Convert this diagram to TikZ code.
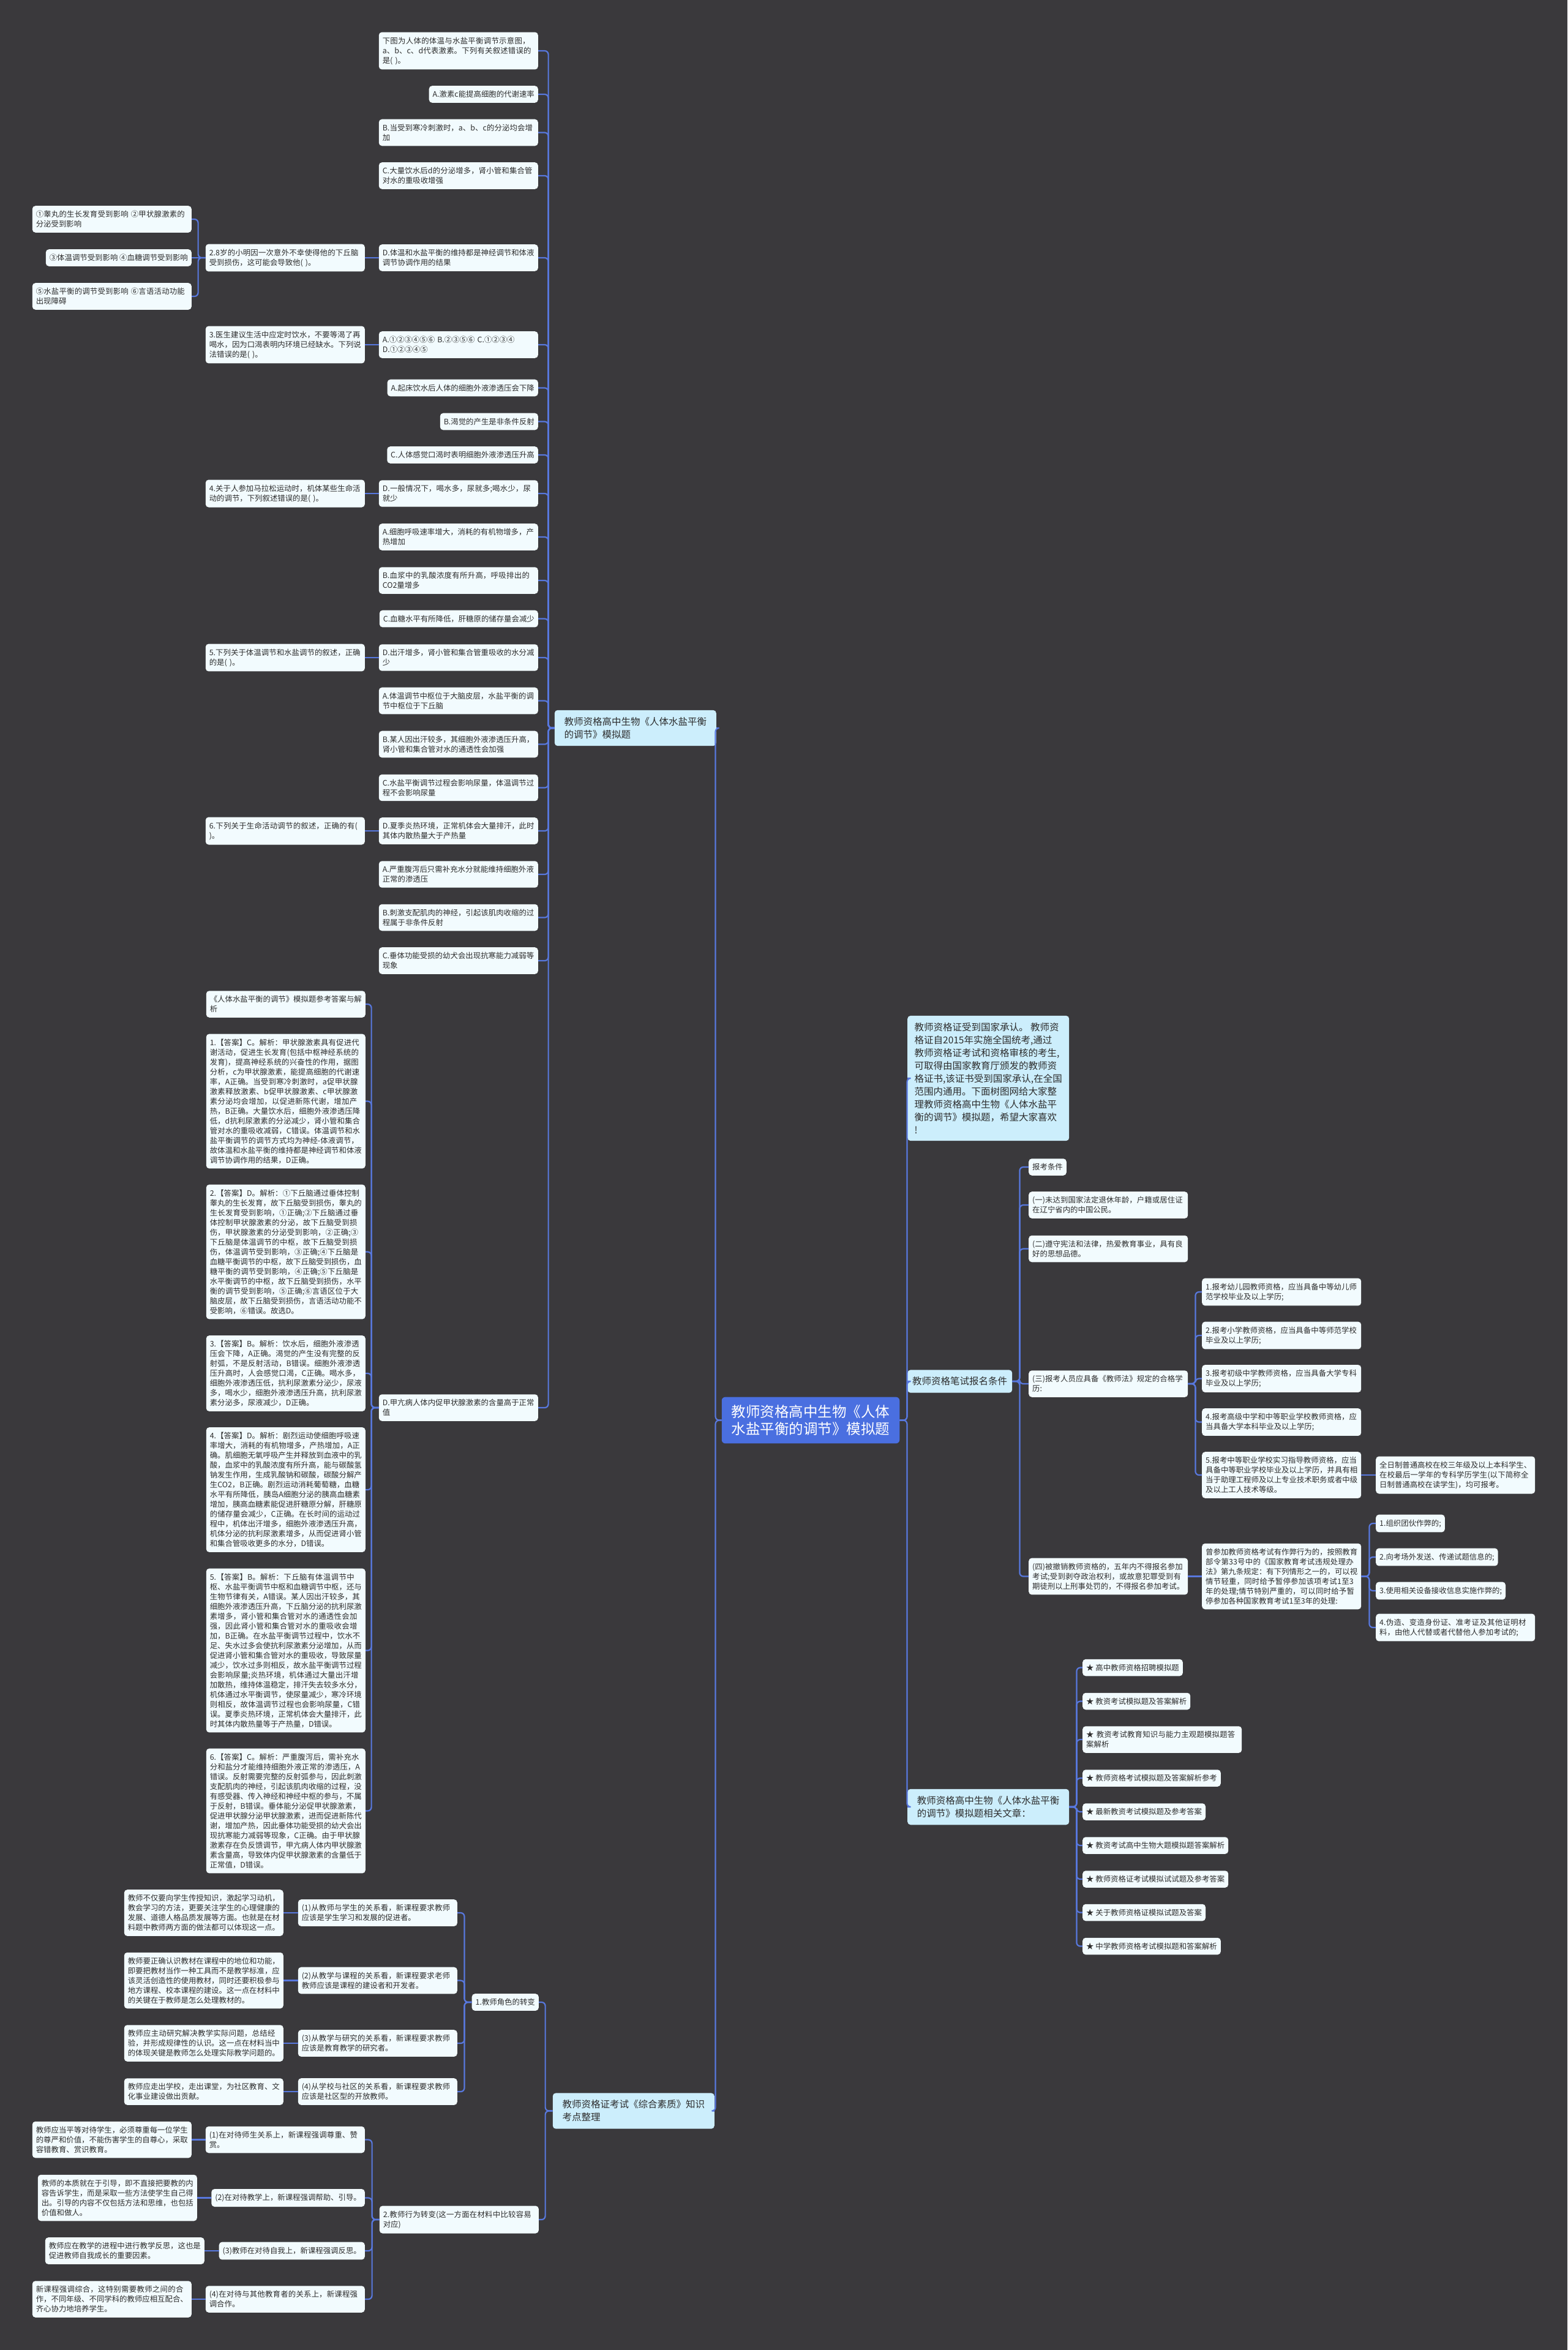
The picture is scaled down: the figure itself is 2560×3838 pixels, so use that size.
\documentclass[tikz,border=0pt]{standalone}
\usepackage{fontspec}
\setmainfont{Noto Sans CJK SC}
\XeTeXlinebreaklocale "zh"
\XeTeXlinebreakskip = 0pt plus 1pt
\usepackage{xcolor}
\definecolor{bgc}{RGB}{58,57,60}
\definecolor{linec}{RGB}{88,120,222}
\definecolor{rootc}{RGB}{74,111,224}
\definecolor{topc}{RGB}{204,238,252}
\definecolor{leafc}{RGB}{242,251,254}
\definecolor{txtc}{RGB}{45,45,45}

\begin{document}
\begin{tikzpicture}[x=1pt,y=1pt,yscale=-1,
	link/.style={draw=linec, line width=2.2pt, rounded corners=6pt},
	leaf/.style={fill=leafc, text=txtc, rounded corners=5pt, inner xsep=6pt, inner ysep=8pt, align=left, font=\fontsize{12.4}{16}\selectfont},
	wide/.style={text width=248pt},
	topic/.style={fill=topc, text=txtc, rounded corners=5pt, inner xsep=8pt, inner ysep=11.5pt, align=left, font=\fontsize{15.5}{21}\selectfont},
	topicw/.style={minimum width=264pt},
	rootbox/.style={fill=rootc, text=white, rounded corners=6pt, inner xsep=16pt, inner ysep=13pt, align=left, font=\fontsize{23.5}{28}\selectfont}]
				%set diagram size 2560 x 3838
				\useasboundingbox (0,0) rectangle (2560,3838);
				\fill [bgc] (0,0) rectangle (2560,3838);
				
				% Root Node
				\node [rootbox] (root) at (1324,2319.5) {教师资格高中生物《人体\\水盐平衡的调节》模拟题};
				
				% Topic Nodes
				\node [topic, topicw, anchor=east] (lvL0) at (1170,1189) {教师资格高中生物《人体水盐平衡\\的调节》模拟题};
				\node [topic, topicw, anchor=east] (lvL1) at (1167,3447.5) {教师资格证考试《综合素质》知识\\考点整理};
				\node [topic, topicw, anchor=west] (lvR0) at (1482,1761) {教师资格证受到国家承认。 教师资\\格证自2015年实施全国统考,通过\\教师资格证考试和资格审核的考生,\\可取得由国家教育厅颁发的教师资\\格证书,该证书受到国家承认,在全国\\范围内通用。下面树图网给大家整\\理教师资格高中生物《人体水盐平\\衡的调节》模拟题，希望大家喜欢\\!};
				\node [topic, anchor=west] (lvR1) at (1482,2256) {教师资格笔试报名条件};
				\node [topic, topicw, anchor=west] (lvR2) at (1482,2951) {教师资格高中生物《人体水盐平衡\\的调节》模拟题相关文章：};
				
				% Text Node
				\node [leaf, wide, anchor=east] (qa0) at (879,83) {下图为人体的体温与水盐平衡调节示意图，a、b、c、d代表激素。下列有关叙述错误的是( )。};
				% Text Node
				\node [leaf, anchor=east] (qa1) at (879,154) {A.激素c能提高细胞的代谢速率};
				% Text Node
				\node [leaf, wide, anchor=east] (qa2) at (879,216.5) {B.当受到寒冷刺激时，a、b、c的分泌均会增加};
				% Text Node
				\node [leaf, wide, anchor=east] (qa3) at (879,287) {C.大量饮水后d的分泌增多，肾小管和集合管对水的重吸收增强};
				% Text Node
				\node [leaf, wide, anchor=east] (qa4) at (879,421) {D.体温和水盐平衡的维持都是神经调节和体液调节协调作用的结果};
				% Text Node
				\node [leaf, wide, anchor=east] (qb0) at (596,421) {2.8岁的小明因一次意外不幸使得他的下丘脑受到损伤，这可能会导致他( )。};
				% Text Node
				\node [leaf, wide, anchor=east] (qb1) at (313,358) {①睾丸的生长发育受到影响 ②甲状腺激素的分泌受到影响};
				% Text Node
				\node [leaf, anchor=east] (qb2) at (313,421) {③体温调节受到影响 ④血糖调节受到影响};
				% Text Node
				\node [leaf, wide, anchor=east] (qb3) at (313,484) {⑤水盐平衡的调节受到影响 ⑥言语活动功能出现障碍};
				% Text Node
				\node [leaf, wide, anchor=east] (qa5) at (879,563) {A.①②③④⑤⑥ B.②③⑤⑥ C.①②③④ D.①②③④⑤};
				% Text Node
				\node [leaf, wide, anchor=east] (qc0) at (596,563) {3.医生建议生活中应定时饮水，不要等渴了再喝水，因为口渴表明内环境已经缺水。下列说法错误的是( )。};
				% Text Node
				\node [leaf, anchor=east] (qa6) at (879,633.5) {A.起床饮水后人体的细胞外液渗透压会下降};
				% Text Node
				\node [leaf, anchor=east] (qa7) at (879,688.5) {B.渴觉的产生是非条件反射};
				% Text Node
				\node [leaf, anchor=east] (qa8) at (879,743) {C.人体感觉口渴时表明细胞外液渗透压升高};
				% Text Node
				\node [leaf, wide, anchor=east] (qa9) at (879,806) {D.一般情况下，喝水多，尿就多;喝水少，尿就少};
				% Text Node
				\node [leaf, wide, anchor=east] (qd0) at (596,806) {4.关于人参加马拉松运动时，机体某些生命活动的调节，下列叙述错误的是( )。};
				% Text Node
				\node [leaf, wide, anchor=east] (qa10) at (879,877) {A.细胞呼吸速率增大，消耗的有机物增多，产热增加};
				% Text Node
				\node [leaf, wide, anchor=east] (qa11) at (879,948) {B.血浆中的乳酸浓度有所升高，呼吸排出的CO2量增多};
				% Text Node
				\node [leaf, anchor=east] (qa12) at (879,1010.5) {C.血糖水平有所降低，肝糖原的储存量会减少};
				% Text Node
				\node [leaf, wide, anchor=east] (qa13) at (879,1074) {D.出汗增多，肾小管和集合管重吸收的水分减少};
				% Text Node
				\node [leaf, wide, anchor=east] (qe0) at (596,1074) {5.下列关于体温调节和水盐调节的叙述，正确的是( )。};
				% Text Node
				\node [leaf, wide, anchor=east] (qa14) at (879,1144.5) {A.体温调节中枢位于大脑皮层，水盐平衡的调节中枢位于下丘脑};
				% Text Node
				\node [leaf, wide, anchor=east] (qa15) at (879,1215.5) {B.某人因出汗较多，其细胞外液渗透压升高，肾小管和集合管对水的通透性会加强};
				% Text Node
				\node [leaf, wide, anchor=east] (qa16) at (879,1286.5) {C.水盐平衡调节过程会影响尿量，体温调节过程不会影响尿量};
				% Text Node
				\node [leaf, wide, anchor=east] (qa17) at (879,1357) {D.夏季炎热环境，正常机体会大量排汗，此时其体内散热量大于产热量};
				% Text Node
				\node [leaf, wide, anchor=east] (qf0) at (596,1357) {6.下列关于生命活动调节的叙述，正确的有( )。};
				% Text Node
				\node [leaf, wide, anchor=east] (qa18) at (879,1428) {A.严重腹泻后只需补充水分就能维持细胞外液正常的渗透压};
				% Text Node
				\node [leaf, wide, anchor=east] (qa19) at (879,1498.5) {B.刺激支配肌肉的神经，引起该肌肉收缩的过程属于非条件反射};
				% Text Node
				\node [leaf, wide, anchor=east] (qa20) at (879,1569) {C.垂体功能受损的幼犬会出现抗寒能力减弱等现象};
				% Text Node
				\node [leaf, wide, anchor=east] (qa21) at (879,2299) {D.甲亢病人体内促甲状腺激素的含量高于正常值};
				
				% Text Node
				\node [leaf, wide, anchor=east] (an0) at (597,1640) {《人体水盐平衡的调节》模拟题参考答案与解析};
				% Text Node
				\node [leaf, wide, anchor=east] (an1) at (597,1798.5) {1.【答案】C。解析：甲状腺激素具有促进代谢活动，促进生长发育(包括中枢神经系统的发育)，提高神经系统的兴奋性的作用，据图分析，c为甲状腺激素，能提高细胞的代谢速率，A正确。当受到寒冷刺激时，a促甲状腺激素释放激素、b促甲状腺激素、c甲状腺激素分泌均会增加，以促进新陈代谢，增加产热，B正确。大量饮水后，细胞外液渗透压降低，d抗利尿激素的分泌减少，肾小管和集合管对水的重吸收减弱，C错误。体温调节和水盐平衡调节的调节方式均为神经-体液调节，故体温和水盐平衡的维持都是神经调节和体液调节协调作用的结果，D正确。};
				% Text Node
				\node [leaf, wide, anchor=east] (an2) at (597,2044.5) {2.【答案】D。解析：①下丘脑通过垂体控制睾丸的生长发育，故下丘脑受到损伤，睾丸的生长发育受到影响，①正确;②下丘脑通过垂体控制甲状腺激素的分泌，故下丘脑受到损伤，甲状腺激素的分泌受到影响，②正确;③下丘脑是体温调节的中枢，故下丘脑受到损伤，体温调节受到影响，③正确;④下丘脑是血糖平衡调节的中枢，故下丘脑受到损伤，血糖平衡的调节受到影响，④正确;⑤下丘脑是水平衡调节的中枢，故下丘脑受到损伤，水平衡的调节受到影响，⑤正确;⑥言语区位于大脑皮层，故下丘脑受到损伤，言语活动功能不受影响，⑥错误。故选D。};
				% Text Node
				\node [leaf, wide, anchor=east] (an3) at (597,2243) {3.【答案】B。解析：饮水后，细胞外液渗透压会下降，A正确。渴觉的产生没有完整的反射弧，不是反射活动，B错误。细胞外液渗透压升高时，人会感觉口渴，C正确。喝水多，细胞外液渗透压低，抗利尿激素分泌少，尿液多，喝水少，细胞外液渗透压升高，抗利尿激素分泌多，尿液减少，D正确。};
				% Text Node
				\node [leaf, wide, anchor=east] (an4) at (597,2433) {4.【答案】D。解析：剧烈运动使细胞呼吸速率增大，消耗的有机物增多，产热增加，A正确。肌细胞无氧呼吸产生并释放到血液中的乳酸，血浆中的乳酸浓度有所升高，能与碳酸氢钠发生作用，生成乳酸钠和碳酸，碳酸分解产生CO2，B正确。剧烈运动消耗葡萄糖，血糖水平有所降低，胰岛A细胞分泌的胰高血糖素增加，胰高血糖素能促进肝糖原分解，肝糖原的储存量会减少，C正确。在长时间的运动过程中，机体出汗增多，细胞外液渗透压升高，机体分泌的抗利尿激素增多，从而促进肾小管和集合管吸收更多的水分，D错误。};
				% Text Node
				\node [leaf, wide, anchor=east] (an5) at (597,2695.5) {5.【答案】B。解析：下丘脑有体温调节中枢、水盐平衡调节中枢和血糖调节中枢，还与生物节律有关，A错误。某人因出汗较多，其细胞外液渗透压升高，下丘脑分泌的抗利尿激素增多，肾小管和集合管对水的通透性会加强，因此肾小管和集合管对水的重吸收会增加，B正确。在水盐平衡调节过程中，饮水不足、失水过多会使抗利尿激素分泌增加，从而促进肾小管和集合管对水的重吸收，导致尿量减少，饮水过多则相反，故水盐平衡调节过程会影响尿量;炎热环境，机体通过大量出汗增加散热，维持体温稳定，排汗失去较多水分，机体通过水平衡调节，使尿量减少，寒冷环境则相反，故体温调节过程也会影响尿量，C错误。夏季炎热环境，正常机体会大量排汗，此时其体内散热量等于产热量，D错误。};
				% Text Node
				\node [leaf, wide, anchor=east] (an6) at (597,2957.5) {6.【答案】C。解析：严重腹泻后，需补充水分和盐分才能维持细胞外液正常的渗透压，A错误。反射需要完整的反射弧参与，因此刺激支配肌肉的神经，引起该肌肉收缩的过程，没有感受器、传入神经和神经中枢的参与，不属于反射，B错误。垂体能分泌促甲状腺激素，促进甲状腺分泌甲状腺激素，进而促进新陈代谢，增加产热，因此垂体功能受损的幼犬会出现抗寒能力减弱等现象，C正确。由于甲状腺激素存在负反馈调节，甲亢病人体内甲状腺激素含量高，导致体内促甲状腺激素的含量低于正常值，D错误。};
				
				% Text Node
				\node [leaf, anchor=west] (c0) at (1680,1906) {报考条件};
				% Text Node
				\node [leaf, wide, anchor=west] (c1) at (1680,1968) {(一)未达到国家法定退休年龄，户籍或居住证在辽宁省内的中国公民。};
				% Text Node
				\node [leaf, wide, anchor=west] (c2) at (1680,2039.5) {(二)遵守宪法和法律，热爱教育事业，具有良好的思想品德。};
				% Text Node
				\node [leaf, wide, anchor=west] (c3) at (1680,2260) {(三)报考人员应具备《教师法》规定的合格学历:};
				% Text Node
				\node [leaf, wide, anchor=west] (c4) at (1680,2574.5) {(四)被撤销教师资格的，五年内不得报名参加考试;受到剥夺政治权利，或故意犯罪受到有期徒刑以上刑事处罚的，不得报名参加考试。};
				% Text Node
				\node [leaf, wide, anchor=west] (d1) at (1963,2110) {1.报考幼儿园教师资格，应当具备中等幼儿师范学校毕业及以上学历;};
				% Text Node
				\node [leaf, wide, anchor=west] (d2) at (1963,2181) {2.报考小学教师资格，应当具备中等师范学校毕业及以上学历;};
				% Text Node
				\node [leaf, wide, anchor=west] (d3) at (1963,2251.5) {3.报考初级中学教师资格，应当具备大学专科毕业及以上学历;};
				% Text Node
				\node [leaf, wide, anchor=west] (d4) at (1963,2322.5) {4.报考高级中学和中等职业学校教师资格，应当具备大学本科毕业及以上学历;};
				% Text Node
				\node [leaf, wide, anchor=west] (d5) at (1963,2409) {5.报考中等职业学校实习指导教师资格，应当具备中等职业学校毕业及以上学历，并具有相当于助理工程师及以上专业技术职务或者中级及以上工人技术等级。};
				% Text Node
				\node [leaf, wide, anchor=west] (e1) at (2247,2409) {全日制普通高校在校三年级及以上本科学生、在校最后一学年的专科学历学生(以下简称全日制普通高校在读学生)，均可报考。};
				% Text Node
				\node [leaf, wide, anchor=west] (f0) at (1963,2574.5) {曾参加教师资格考试有作弊行为的，按照教育部令第33号中的《国家教育考试违规处理办法》第九条规定：有下列情形之一的，可以视情节轻重，同时给予暂停参加该项考试1至3年的处理;情节特别严重的，可以同时给予暂停参加各种国家教育考试1至3年的处理:};
				% Text Node
				\node [leaf, anchor=west] (g1) at (2247,2488) {1.组织团伙作弊的;};
				% Text Node
				\node [leaf, anchor=west] (g2) at (2247,2543) {2.向考场外发送、传递试题信息的;};
				% Text Node
				\node [leaf, anchor=west] (g3) at (2247,2598) {3.使用相关设备接收信息实施作弊的;};
				% Text Node
				\node [leaf, wide, anchor=west] (g4) at (2247,2658) {4.伪造、变造身份证、准考证及其他证明材料，由他人代替或者代替他人参加考试的;};
				
				% Text Node
				\node [leaf, anchor=west] (r1) at (1768,2723.5) {★ 高中教师资格招聘模拟题};
				% Text Node
				\node [leaf, anchor=west] (r2) at (1768,2778.5) {★ 教资考试模拟题及答案解析};
				% Text Node
				\node [leaf, wide, anchor=west] (r3) at (1768,2841) {★ 教资考试教育知识与能力主观题模拟题答案解析};
				% Text Node
				\node [leaf, anchor=west] (r4) at (1768,2904) {★ 教师资格考试模拟题及答案解析参考};
				% Text Node
				\node [leaf, anchor=west] (r5) at (1768,2959) {★ 最新教资考试模拟题及参考答案};
				% Text Node
				\node [leaf, anchor=west] (r6) at (1768,3014) {★ 教资考试高中生物大题模拟题答案解析};
				% Text Node
				\node [leaf, anchor=west] (r7) at (1768,3069) {★ 教师资格证考试模拟试试题及参考答案};
				% Text Node
				\node [leaf, anchor=west] (r8) at (1768,3123.5) {★ 关于教师资格证模拟试题及答案};
				% Text Node
				\node [leaf, anchor=west] (r9) at (1768,3178.5) {★ 中学教师资格考试模拟题和答案解析};
				
				% Text Node
				\node [leaf, anchor=east] (h1) at (880,3270) {1.教师角色的转变};
				% Text Node
				\node [leaf, wide, anchor=east] (h2) at (880,3625) {2.教师行为转变(这一方面在材料中比较容易对应)};
				% Text Node
				\node [leaf, wide, anchor=east] (i1) at (747,3124) {(1)从教师与学生的关系看，新课程要求教师应该是学生学习和发展的促进者。};
				% Text Node
				\node [leaf, wide, anchor=east] (i2) at (747,3234.5) {(2)从教学与课程的关系看，新课程要求老师教师应该是课程的建设者和开发者。};
				% Text Node
				\node [leaf, wide, anchor=east] (i3) at (747,3337) {(3)从教学与研究的关系看，新课程要求教师应该是教育教学的研究者。};
				% Text Node
				\node [leaf, wide, anchor=east] (i4) at (747,3416) {(4)从学校与社区的关系看，新课程要求教师应该是社区型的开放教师。};
				% Text Node
				\node [leaf, wide, anchor=east] (j1) at (463,3124) {教师不仅要向学生传授知识，激起学习动机，教会学习的方法，更要关注学生的心理健康的发展、道德人格品质发展等方面。也就是在材料题中教师两方面的做法都可以体现这一点。};
				% Text Node
				\node [leaf, wide, anchor=east] (j2) at (463,3234.5) {教师要正确认识教材在课程中的地位和功能，即要把教材当作一种工具而不是教学标准，应该灵活创造性的使用教材，同时还要积极参与地方课程、校本课程的建设。这一点在材料中的关键在于教师是怎么处理教材的。};
				% Text Node
				\node [leaf, wide, anchor=east] (j3) at (463,3337) {教师应主动研究解决教学实际问题，总结经验，并形成规律性的认识。这一点在材料当中的体现关键是教师怎么处理实际教学问题的。};
				% Text Node
				\node [leaf, wide, anchor=east] (j4) at (463,3416) {教师应走出学校，走出课堂，为社区教育、文化事业建设做出贡献。};
				% Text Node
				\node [leaf, wide, anchor=east] (k1) at (596,3494.5) {(1)在对待师生关系上，新课程强调尊重、赞赏。};
				% Text Node
				\node [leaf, anchor=east] (k2) at (596,3589.5) {(2)在对待教学上，新课程强调帮助、引导。};
				% Text Node
				\node [leaf, anchor=east] (k3) at (596,3676) {(3)教师在对待自我上，新课程强调反思。};
				% Text Node
				\node [leaf, wide, anchor=east] (k4) at (596,3755) {(4)在对待与其他教育者的关系上，新课程强调合作。};
				% Text Node
				\node [leaf, wide, anchor=east] (l1) at (313,3494.5) {教师应当平等对待学生，必须尊重每一位学生的尊严和价值，不能伤害学生的自尊心，采取容错教育、赏识教育。};
				% Text Node
				\node [leaf, wide, anchor=east] (l2) at (322,3589.5) {教师的本质就在于引导，即不直接把要教的内容告诉学生，而是采取一些方法使学生自己得出。引导的内容不仅包括方法和思维，也包括价值和做人。};
				% Text Node
				\node [leaf, wide, anchor=east] (l3) at (334,3676) {教师应在教学的进程中进行教学反思，这也是促进教师自我成长的重要因素。};
				% Text Node
				\node [leaf, wide, anchor=east] (l4) at (313,3755) {新课程强调综合，这特别需要教师之间的合作，不同年级、不同学科的教师应相互配合、齐心协力地培养学生。};
				
				%Straight Lines
				\draw [link] (root.west) -- ++(-10,0) |- (lvL0.east);
				\draw [link] (root.west) -- ++(-10,0) |- (lvL1.east);
				\draw [link] (root.east) -- ++(12,0) |- (lvR0.west);
				\draw [link] (root.east) -- ++(12,0) |- (lvR1.west);
				\draw [link] (root.east) -- ++(12,0) |- (lvR2.west);
				
				%Straight Lines
				\draw [link] (lvL0.west) -- ++(-10,0) |- (qa0.east);
				\draw [link] (lvL0.west) -- ++(-10,0) |- (qa1.east);
				\draw [link] (lvL0.west) -- ++(-10,0) |- (qa2.east);
				\draw [link] (lvL0.west) -- ++(-10,0) |- (qa3.east);
				\draw [link] (lvL0.west) -- ++(-10,0) |- (qa4.east);
				\draw [link] (lvL0.west) -- ++(-10,0) |- (qa5.east);
				\draw [link] (lvL0.west) -- ++(-10,0) |- (qa6.east);
				\draw [link] (lvL0.west) -- ++(-10,0) |- (qa7.east);
				\draw [link] (lvL0.west) -- ++(-10,0) |- (qa8.east);
				\draw [link] (lvL0.west) -- ++(-10,0) |- (qa9.east);
				\draw [link] (lvL0.west) -- ++(-10,0) |- (qa10.east);
				\draw [link] (lvL0.west) -- ++(-10,0) |- (qa11.east);
				\draw [link] (lvL0.west) -- ++(-10,0) |- (qa12.east);
				\draw [link] (lvL0.west) -- ++(-10,0) |- (qa13.east);
				\draw [link] (lvL0.west) -- ++(-10,0) |- (qa14.east);
				\draw [link] (lvL0.west) -- ++(-10,0) |- (qa15.east);
				\draw [link] (lvL0.west) -- ++(-10,0) |- (qa16.east);
				\draw [link] (lvL0.west) -- ++(-10,0) |- (qa17.east);
				\draw [link] (lvL0.west) -- ++(-10,0) |- (qa18.east);
				\draw [link] (lvL0.west) -- ++(-10,0) |- (qa19.east);
				\draw [link] (lvL0.west) -- ++(-10,0) |- (qa20.east);
				\draw [link] (lvL0.west) -- ++(-10,0) |- (qa21.east);
				
				%Straight Lines
				\draw [link] (qa4.west) -- (qb0.east);
				\draw [link] (qb0.west) -- ++(-12,0) |- (qb1.east);
				\draw [link] (qb0.west) -- (qb2.east);
				\draw [link] (qb0.west) -- ++(-12,0) |- (qb3.east);
				\draw [link] (qa5.west) -- (qc0.east);
				\draw [link] (qa9.west) -- (qd0.east);
				\draw [link] (qa13.west) -- (qe0.east);
				\draw [link] (qa17.west) -- (qf0.east);
				
				%Straight Lines
				\draw [link] (qa21.west) -- ++(-12,0) |- (an0.east);
				\draw [link] (qa21.west) -- ++(-12,0) |- (an1.east);
				\draw [link] (qa21.west) -- ++(-12,0) |- (an2.east);
				\draw [link] (qa21.west) -- ++(-12,0) |- (an3.east);
				\draw [link] (qa21.west) -- ++(-12,0) |- (an4.east);
				\draw [link] (qa21.west) -- ++(-12,0) |- (an5.east);
				\draw [link] (qa21.west) -- ++(-12,0) |- (an6.east);
				
				%Straight Lines
				\draw [link] (lvR1.east) -- ++(12,0) |- (c0.west);
				\draw [link] (lvR1.east) -- ++(12,0) |- (c1.west);
				\draw [link] (lvR1.east) -- ++(12,0) |- (c2.west);
				\draw [link] (lvR1.east) -- ++(12,0) |- (c3.west);
				\draw [link] (lvR1.east) -- ++(12,0) |- (c4.west);
				\draw [link] (c3.east) -- ++(12,0) |- (d1.west);
				\draw [link] (c3.east) -- ++(12,0) |- (d2.west);
				\draw [link] (c3.east) -- ++(12,0) |- (d3.west);
				\draw [link] (c3.east) -- ++(12,0) |- (d4.west);
				\draw [link] (c3.east) -- ++(12,0) |- (d5.west);
				\draw [link] (d5.east) -- (e1.west);
				\draw [link] (c4.east) -- (f0.west);
				\draw [link] (f0.east) -- ++(13,0) |- (g1.west);
				\draw [link] (f0.east) -- ++(13,0) |- (g2.west);
				\draw [link] (f0.east) -- ++(13,0) |- (g3.west);
				\draw [link] (f0.east) -- ++(13,0) |- (g4.west);
				
				%Straight Lines
				\draw [link] (lvR2.east) -- ++(12,0) |- (r1.west);
				\draw [link] (lvR2.east) -- ++(12,0) |- (r2.west);
				\draw [link] (lvR2.east) -- ++(12,0) |- (r3.west);
				\draw [link] (lvR2.east) -- ++(12,0) |- (r4.west);
				\draw [link] (lvR2.east) -- ++(12,0) |- (r5.west);
				\draw [link] (lvR2.east) -- ++(12,0) |- (r6.west);
				\draw [link] (lvR2.east) -- ++(12,0) |- (r7.west);
				\draw [link] (lvR2.east) -- ++(12,0) |- (r8.west);
				\draw [link] (lvR2.east) -- ++(12,0) |- (r9.west);
				
				%Straight Lines
				\draw [link] (lvL1.west) -- ++(-12,0) |- (h1.east);
				\draw [link] (lvL1.west) -- ++(-12,0) |- (h2.east);
				\draw [link] (h1.west) -- ++(-12,0) |- (i1.east);
				\draw [link] (h1.west) -- ++(-12,0) |- (i2.east);
				\draw [link] (h1.west) -- ++(-12,0) |- (i3.east);
				\draw [link] (h1.west) -- ++(-12,0) |- (i4.east);
				\draw [link] (i1.west) -- (j1.east);
				\draw [link] (i2.west) -- (j2.east);
				\draw [link] (i3.west) -- (j3.east);
				\draw [link] (i4.west) -- (j4.east);
				\draw [link] (h2.west) -- ++(-12,0) |- (k1.east);
				\draw [link] (h2.west) -- ++(-12,0) |- (k2.east);
				\draw [link] (h2.west) -- ++(-12,0) |- (k3.east);
				\draw [link] (h2.west) -- ++(-12,0) |- (k4.east);
				\draw [link] (k1.west) -- (l1.east);
				\draw [link] (k2.west) -- (l2.east);
				\draw [link] (k3.west) -- (l3.east);
				\draw [link] (k4.west) -- (l4.east);
				
			\end{tikzpicture}
\end{document}
